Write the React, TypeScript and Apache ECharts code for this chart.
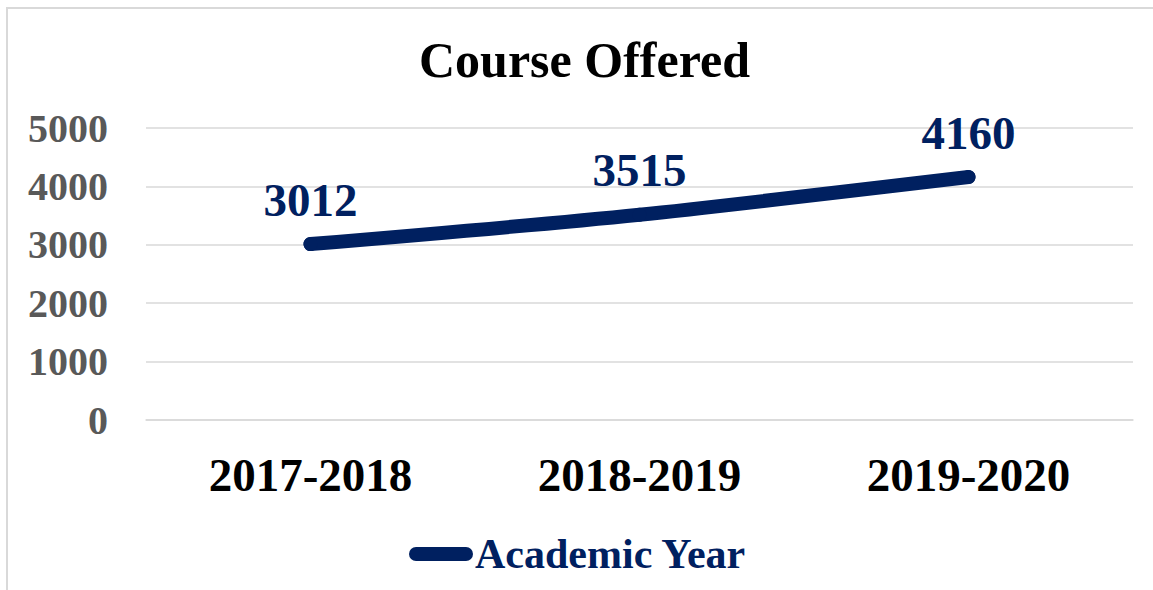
import React, { useEffect, useRef } from "react";
import * as echarts from "echarts";

const categories = ["2017-2018", "2018-2019", "2019-2020"];
const values = [3012, 3515, 4160];
const seriesName = "Academic Year";
const titleText = "Course Offered";

const NAVY = "#002060";
const FONT = "'Liberation Serif', 'Times New Roman', serif";

export default function App() {
  const ref = useRef<HTMLDivElement>(null);
  useEffect(() => {
    if (!ref.current) return;
    const chart = echarts.init(ref.current, undefined, { renderer: "svg" });
    chart.setOption({
      animation: false,
      backgroundColor: "#ffffff",
      graphic: [
        {
          type: "rect",
          shape: { x: 7, y: 8, width: 1300, height: 700 },
          style: { fill: "none", stroke: "#d9d9d9", lineWidth: 2 },
          silent: true,
          z: -1,
        },
      ],
      title: {
        text: titleText,
        left: 414,
        top: 30,
        textStyle: { fontFamily: FONT, fontWeight: "bold", fontSize: 50, color: "#000000" },
      },
      legend: {
        left: 404,
        top: 528,
        itemWidth: 64,
        itemHeight: 14,
        icon: "path://M7,0 H57 A7,7 0 0 1 57,14 H7 A7,7 0 0 1 7,0 Z",
        textStyle: { fontFamily: FONT, fontWeight: "bold", fontSize: 42, color: NAVY, padding: [0, 0, 0, -3] },
        data: [seriesName],
      },
      grid: { left: 146, right: 20, top: 128, bottom: 170 },
      xAxis: {
        type: "category",
        data: categories,
        boundaryGap: true,
        axisTick: { show: false },
        axisLine: { lineStyle: { color: "#d9d9d9", width: 1.5 } },
        axisLabel: { margin: 31, fontFamily: FONT, fontWeight: "bold", fontSize: 47, color: "#000000" },
      },
      yAxis: {
        type: "value",
        min: 0,
        max: 5000,
        interval: 1000,
        axisLine: { show: false },
        axisTick: { show: false },
        splitLine: { lineStyle: { color: "#d9d9d9", width: 1.5 } },
        axisLabel: {
          margin: 38,
          fontFamily: FONT,
          fontWeight: "bold",
          fontSize: 40,
          color: "#595959",
          formatter: (v: number) => String(v),
        },
      },
      series: [
        {
          name: seriesName,
          type: "line",
          data: values,
          smooth: 0.3,
          symbol: "circle",
          symbolSize: 14,
          itemStyle: { color: NAVY },
          lineStyle: { color: NAVY, width: 14, cap: "round" },
          label: {
            show: true,
            position: "top",
            distance: 14,
            fontFamily: FONT,
            fontWeight: "bold",
            fontSize: 47,
            color: NAVY,
          },
        },
      ],
    });
    return () => chart.dispose();
  }, []);
  return (
    <div
      ref={ref}
      style={{ position: "absolute", left: 0, top: 0, width: 1153, height: 590 }}
    />
  );
}
